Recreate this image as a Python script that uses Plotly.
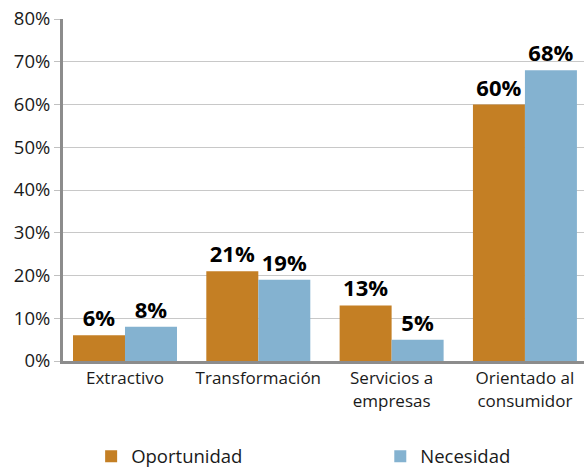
import plotly.graph_objects as go

categories = ["Extractivo", "Transformación", "Servicios a<br>empresas", "Orientado al<br>consumidor"]
oportunidad = [6, 21, 13, 60]
necesidad = [8, 19, 5, 68]
y_ticks = [0, 10, 20, 30, 40, 50, 60, 70, 80]
y_tick_labels = [f"{v}%" for v in y_ticks]

FONT = "Open Sans, Noto Sans, sans-serif"
LABEL_FONT = dict(size=22, color="#000000", family=FONT)

fig = go.Figure()
fig.add_trace(go.Bar(
    x=categories, y=oportunidad, name="Oportunidad",
    marker=dict(color="#C47F24", line=dict(width=0)),
    text=[f"{v}%" for v in oportunidad],
    texttemplate="<b>%{text}</b>", textposition="outside",
    textfont=LABEL_FONT, cliponaxis=False, constraintext="none",
    legend="legend",
))
fig.add_trace(go.Bar(
    x=categories, y=necesidad, name="Necesidad",
    marker=dict(color="#84B2D0", line=dict(width=0)),
    text=[f"{v}%" for v in necesidad],
    texttemplate="<b>%{text}</b>", textposition="outside",
    textfont=LABEL_FONT, cliponaxis=False, constraintext="none",
    legend="legend2",
))

legend_common = dict(
    orientation="h", yanchor="top", y=-0.224, xanchor="left",
    font=dict(size=18.5, color="#1a1a1a", family=FONT),
    bgcolor="rgba(0,0,0,0)", borderwidth=0,
)

fig.update_layout(
    width=584, height=468,
    margin=dict(l=63, r=0, t=19, b=107, autoexpand=False),
    paper_bgcolor="white", plot_bgcolor="white",
    barmode="group", bargap=0.22, bargroupgap=0,
    font=dict(family=FONT, color="#1a1a1a"),
    showlegend=True,
    legend=dict(x=0.054, **legend_common),
    legend2=dict(x=0.609, **legend_common),
    uniformtext=dict(mode=False),
)
fig.update_xaxes(
    range=[-0.465, 3.443],
    showline=True, linecolor="#8c8c8c", linewidth=3,
    ticks="", tickfont=dict(size=17, color="#1a1a1a", family=FONT),
    showgrid=False, fixedrange=True,
)
fig.update_yaxes(
    range=[0, 80], tickvals=y_ticks, ticktext=y_tick_labels,
    showline=True, linecolor="#8c8c8c", linewidth=3,
    ticks="outside", ticklen=6, tickcolor="#c0c0c0", tickwidth=1,
    showgrid=True, gridcolor="#c8c8c8", gridwidth=1,
    tickfont=dict(size=18.5, color="#1a1a1a", family=FONT),
    zeroline=False, fixedrange=True,
)

fig.write_html(
    "out.html",
    config={"displayModeBar": False},
    post_script="document.body.style.margin='0';document.body.style.overflow='hidden';",
)
